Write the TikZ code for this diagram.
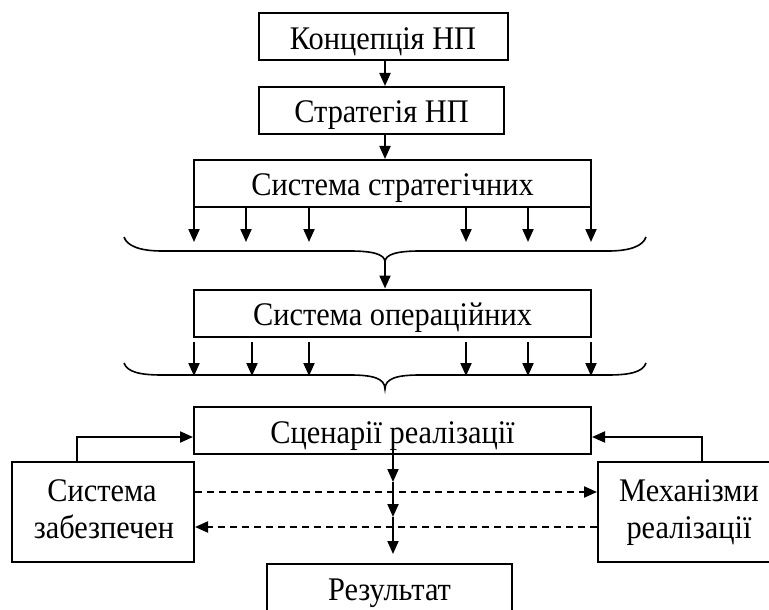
\documentclass[tikz,border=0pt]{standalone}
\usepackage{fontspec}
\setmainfont[FakeStretch=0.92]{Liberation Serif}
\usetikzlibrary{arrows.meta}
\newcommand\diagfont{\fontsize{33bp}{38bp}\selectfont}
\begin{document}
\begin{tikzpicture}[x=1bp,y=-1bp]
\tikzset{
  box/.style={draw, line width=2bp, inner sep=0pt, minimum height=47bp, text height=36bp, text depth=11bp, font=\diagfont},
  sidebox/.style={draw, line width=2bp, inner sep=0pt, minimum width=182bp, minimum height=100bp},
  txt/.style={inner sep=0pt, anchor=base, font=\diagfont},
  arr/.style={line width=2bp, -{Triangle[length=13bp,width=11bp]}},
  darr/.style={arr, dash pattern=on 7bp off 5bp},
  bracestyle/.style={line width=1.6bp}
}
\useasboundingbox (0,0) rectangle (769,610);
\clip (0,0) rectangle (769,610);

% boxes
\node[box, minimum width=249bp] (konc) at (383,37) {Концепція НП};
\node[box, minimum width=245bp] (strat) at (381.5,110.5) {Стратегія НП};
\node[box, minimum width=397bp] (sstrat) at (392.5,183.5) {Система стратегічних};
\node[box, minimum width=397bp] (soper) at (392.5,313) {Система операційних};
\node[box, minimum width=397bp] (scen) at (392.5,430.5) {Сценарії реалізації};
\node[sidebox] (zab) at (103,512) {};
\node[sidebox] (mech) at (689,512) {};
\node[box, minimum width=245bp] (res) at (389.5,587.5) {Результат};
\node[txt] (zab1) at (102,501) {Система};
\node[txt] (zab2) at (104,538) {забезпечен};
\node[txt] (mech1) at (689,501) {Механізми};
\node[txt] (mech2) at (689,538) {реалізації};

% top arrows
\coordinate (ax) at (385,0);
\draw[arr] (konc.south -| ax) -- (strat.north -| ax);
\draw[arr] (strat.south -| ax) -- (sstrat.north -| ax);

% arrows to brace 1
\foreach \x in {194,246,309,466,528,591}{
  \coordinate (t\x) at (\x,242);
  \draw[arr] (sstrat.south -| t\x) -- (t\x);
}
% brace 1
\coordinate (b1) at (385,262);
\draw[bracestyle] (124,237) .. controls (127,246) and (140,251) .. (162,251) -- (350,251)
  .. controls (372,251) and (385,254) .. (b1)
  .. controls (385,254) and (398,251) .. (420,251) -- (608,251)
  .. controls (630,251) and (643,246) .. (646,237);
\draw[arr] (b1) -- (soper.north -| b1);

% arrows to brace 2
\foreach \x in {194,252,309,466,528,591}{
  \coordinate (s\x) at (\x,342);
  \coordinate (u\x) at (\x,376);
  \draw[arr] (s\x) -- (u\x);
}
% brace 2
\coordinate (b2) at (385,389);
\draw[bracestyle] (124,363) .. controls (127,372) and (140,375) .. (162,375) -- (350,375)
  .. controls (372,375) and (385,378) .. (b2)
  .. controls (385,378) and (398,375) .. (420,375) -- (608,375)
  .. controls (630,375) and (643,372) .. (646,363);

% side connectors
\coordinate (lx) at (77,0);
\coordinate (rx) at (702,0);
\draw[arr] (zab.north -| lx) |- ([yshift=-6.5bp]scen.west);
\draw[arr] (mech.north -| rx) |- ([yshift=-6.5bp]scen.east);

% dashed
\coordinate (d1) at (0,492);
\coordinate (d2) at (0,527);
\draw[darr] (zab.east |- d1) -- (mech.west |- d1);
\draw[darr] (mech.west |- d2) -- (zab.east |- d2);

% central arrows
\coordinate (c0) at (393,448);
\coordinate (c1) at (393,482);
\coordinate (c2) at (393,517);
\coordinate (c3) at (393,554);
\draw[arr] (c0) -- (c1);
\draw[arr] (c1) -- (c2);
\draw[arr] (c2) -- (c3);
\end{tikzpicture}
\end{document}
